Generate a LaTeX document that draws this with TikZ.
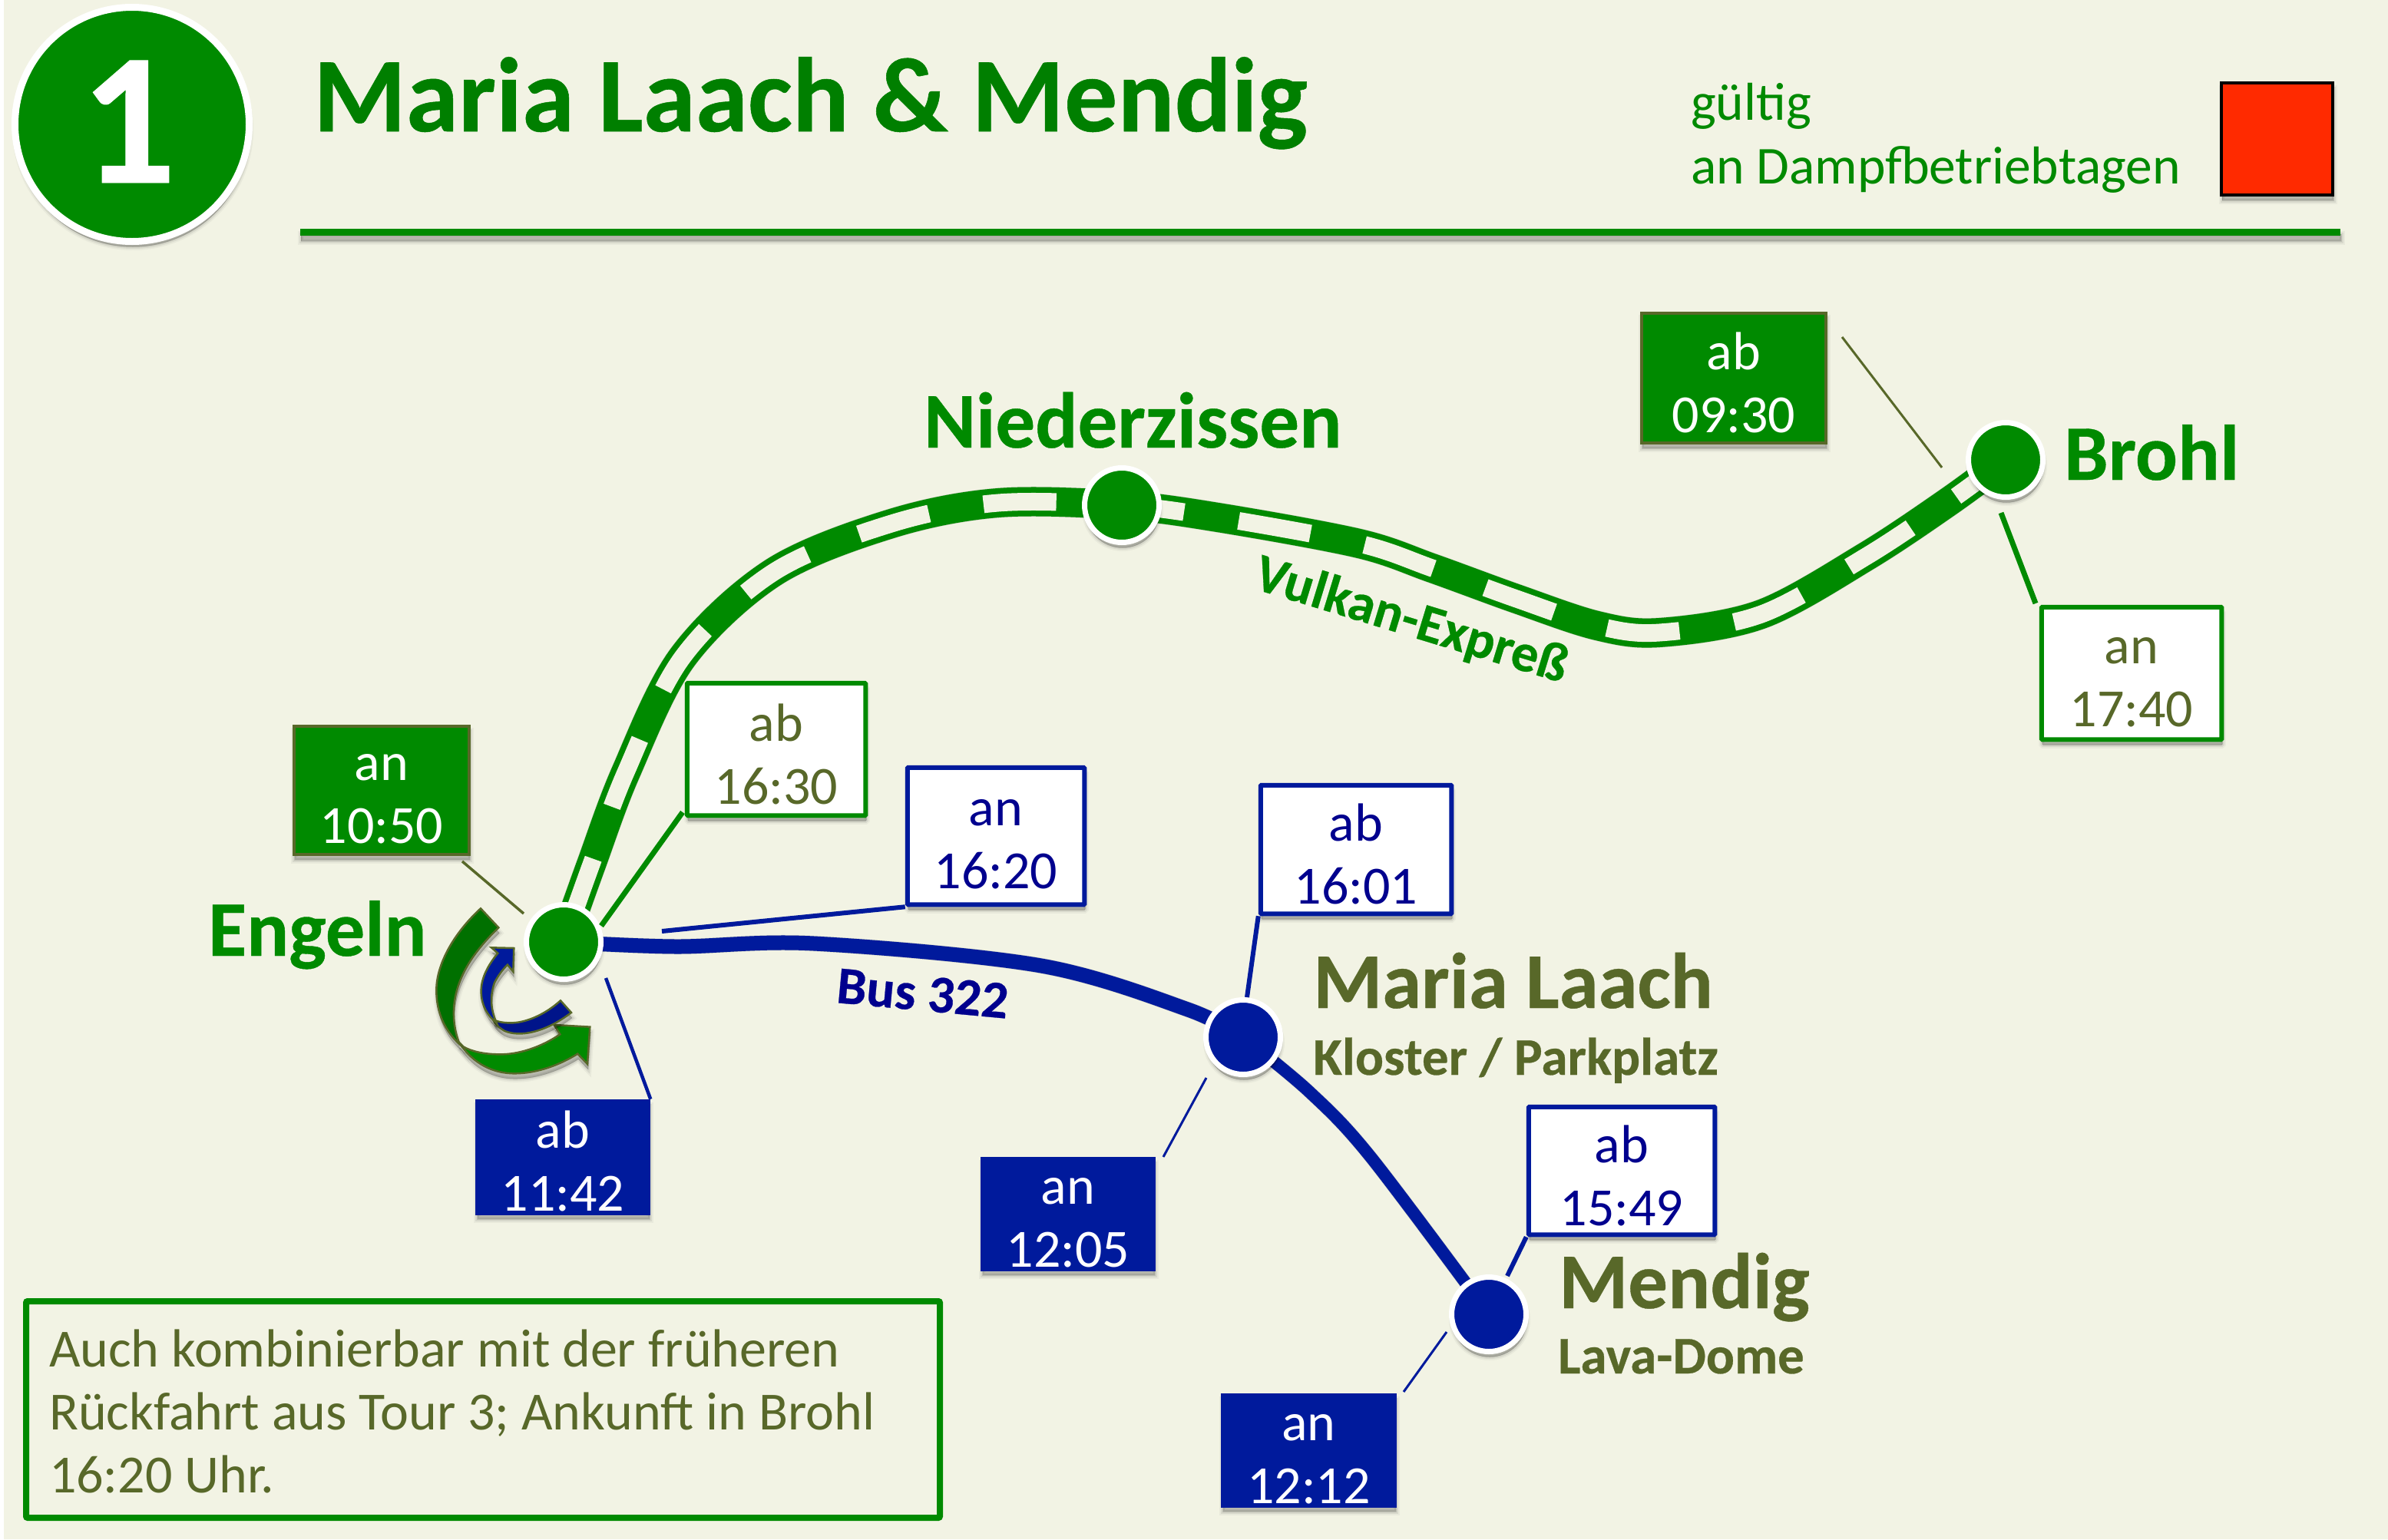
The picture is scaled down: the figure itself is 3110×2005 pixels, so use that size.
\documentclass[tikz,border=0pt]{standalone}
\usepackage{fontspec}
\setmainfont[BoldFeatures={FakeBold=0.4}]{Carlito}
\usetikzlibrary{shadows}
\definecolor{bgc}{HTML}{F2F3E4}
\definecolor{gr}{HTML}{008A00}
\definecolor{grd}{HTML}{007000}
\definecolor{titleg}{HTML}{007F00}
\definecolor{bl}{HTML}{001A9C}
\definecolor{bld}{HTML}{00148A}
\definecolor{navy}{HTML}{00008E}
\definecolor{olive}{HTML}{586829}
\definecolor{redbox}{HTML}{FF2A00}
\newcommand\fs[1]{\fontsize{#1}{82}\selectfont}
\tikzset{
  softsh/.style={
    general shadow={shadow xshift=1pt,shadow yshift=-7pt,fill=black,draw=black,line width=9pt,opacity=.04},
    general shadow={shadow xshift=1pt,shadow yshift=-7pt,fill=black,draw=black,line width=5pt,opacity=.07},
    general shadow={shadow xshift=1pt,shadow yshift=-7pt,fill=black,draw=black,line width=1pt,opacity=.12}},
  stat/.style={circle,draw=white,line width=7pt,minimum size=97pt,inner sep=0pt,softsh},
  gstat/.style={stat,fill=gr},
  bstat/.style={stat,fill=bl},
  txt/.style={inner sep=0pt,anchor=base west},
  gfill/.style={rectangle,fill=gr,draw=olive,line width=4pt,text=white,softsh},
  bfill/.style={rectangle,fill=bl,draw=bl,line width=4pt,text=white,softsh},
  gwhite/.style={rectangle,fill=white,draw=gr,line width=6pt,text=olive,rounded corners=1pt,softsh},
  bwhite/.style={rectangle,fill=white,draw=bl,line width=6pt,text=navy,rounded corners=1pt,softsh},
  tracksh/.style={line width=39pt,draw=black,opacity=.16},
  trackg/.style={line width=38pt,draw=gr},
  trackw/.style={line width=23pt,draw=bgc,dash pattern=on 95pt off 72pt,dash phase=147pt},
  buspath/.style={line width=19pt,draw=bl},
  lead/.style={draw=bl},
  arrowpiece/.style={draw=olive,line width=2.5pt,line join=miter,softsh}
}
\newcommand\tb[9]{%
  \pgfmathsetmacro\hh{2*(#9-(#3+#5)/2)-82}%
  \pgfmathsetmacro\ww{#4-#2-3.5}%
  \pgfmathsetmacro\vv{#5-#3-3.5}%
  \node[#6,inner sep=0pt,align=center,font=\fs{70},minimum width=\ww pt,minimum height=\vv pt]
    (#1) at ({(#2+#4)/2},{(#3+#5)/2}) {\rule{0pt}{\hh pt}#7\\#8};}
\begin{document}
\begin{tikzpicture}[x=1pt,y=-1pt]
\useasboundingbox (0,0) rectangle (3110,2005);
\fill[bgc] (0,0) rectangle (3110,2005);
\fill[white] (0,0) rectangle (5,2005);

% header
\node[circle,fill=gr,draw=white,line width=9pt,minimum size=305pt,inner sep=0pt,softsh] (badge) at (172,162) {};
\node[inner sep=0pt,anchor=base,text=white,font=\fs{245}\bfseries] (badgenum) at (167,238) {1};
\node[txt,text=titleg,font=\fs{138}\bfseries] (title) at (408,171) {Maria Laach \& Mendig};
\fill[gr,softsh] (391,298) rectangle (3048,307);
\node[txt,text=gr,font=\fs{69.5}] (valid1) at (2202,156) {gültig};
\node[txt,text=gr,font=\fs{69.5}] (valid2) at (2202,239) {an Dampfbetriebtagen};
\node[rectangle,fill=redbox,draw=black,line width=3.5pt,minimum width=145pt,minimum height=146pt,inner sep=0pt,softsh] (red) at (2965.5,181) {};

% route coordinates
\coordinate (eng) at (734,1227);
\coordinate (nied) at (1461,658);
\coordinate (broh) at (2612,599);
\coordinate (ml) at (1619,1351);
\coordinate (men) at (1939,1712);
\coordinate (t1) at (770,1126);
\coordinate (t2) at (815,1006);
\coordinate (t3) at (889,856);
\coordinate (t4) at (1008,745);
\coordinate (t5) at (1161,682);
\coordinate (t6) at (1300,655);
\coordinate (t7) at (1586,674);
\coordinate (t8) at (1770,708);
\coordinate (t8b) at (1865,740);
\coordinate (t9) at (1975,780);
\coordinate (t9b) at (2080,815);
\coordinate (t10) at (2161,824);
\coordinate (t11) at (2294,800);
\coordinate (t12) at (2430,725);
\coordinate (t13) at (2537,654);
\coordinate (b1) at (880,1233);
\coordinate (b2) at (1060,1229);
\coordinate (b4) at (1356,1258);
\coordinate (b4d) at (1547,1315);
\coordinate (b5) at (1705,1422);
\coordinate (b6) at (1785,1507);

\newcommand\trackp{plot[smooth,tension=.55] coordinates {(eng) (t1) (t2) (t3) (t4) (t5) (t6) (nied) (t7) (t8) (t8b) (t9) (t9b) (t10) (t11) (t12) (t13) (broh)}}
\draw[tracksh,yshift=-7pt,xshift=1pt] \trackp;
\draw[trackg] \trackp;
\draw[trackw,xshift=1pt,yshift=-2.5pt] \trackp;

\newcommand\busp{plot[smooth,tension=.55] coordinates {(eng) (b1) (b2) (b4) (b4d) (ml)}}
\newcommand\buspb{plot[smooth,tension=.55] coordinates {(ml) (b5) (b6) (men)}}
\draw[line width=20pt,draw=black,opacity=.16,yshift=-6pt,xshift=1pt] \busp;
\draw[line width=17pt,draw=black,opacity=.16,yshift=-6pt,xshift=1pt] \buspb;
\draw[buspath] \busp;
\draw[buspath,line width=16pt] \buspb;

% stations
\node[gstat] (Eng) at (eng) {};
\node[gstat] (Nied) at (nied) {};
\node[gstat] (Broh) at (broh) {};
\node[bstat] (ML) at (ml) {};
\node[bstat] (Men) at (men) {};

% time boxes
\tb{a1050}{381}{944}{613}{1115}{gfill}{an}{10:50}{1099}
\tb{a1630}{893}{888}{1129}{1064}{gwhite}{ab}{16:30}{1048}
\tb{a1620}{1180}{998}{1414}{1180}{bwhite}{an}{16:20}{1158}
\tb{a1601}{1640}{1021}{1892}{1192}{bwhite}{ab}{16:01}{1178}
\tb{a1142}{619}{1432}{847}{1583}{bfill}{ab}{11:42}{1578}
\tb{a1205}{1277}{1507}{1505}{1656}{bfill}{an}{12:05}{1651}
\tb{a1549}{1989}{1440}{2235}{1610}{bwhite}{ab}{15:49}{1597}
\tb{a1212}{1590}{1815}{1819}{1964}{bfill}{an}{12:12}{1959}
\tb{a0930}{2136}{406}{2380}{579}{gfill}{ab}{09:30}{564}
\tb{a1740}{2657}{789}{2895}{965}{gwhite}{an}{17:40}{947}

% leader lines
\coordinate (l1a) at (602,1122); \coordinate (l1b) at (682,1190);
\coordinate (l2b) at (783,1206); \coordinate (l2a) at (889,1058);
\coordinate (l3b) at (862,1213);
\coordinate (l4a) at (789,1274);
\coordinate (l5a) at (1571,1404); \coordinate (l5b) at (1515,1507);
\coordinate (l6b) at (1624,1299);
\coordinate (l7b) at (1963,1662);
\coordinate (l8a) at (1884,1735); \coordinate (l8b) at (1828,1813);
\coordinate (l9a) at (2399,439); \coordinate (l9b) at (2529,609);
\coordinate (l10a) at (2606,668); \coordinate (l10b) at (2651,786);
\draw[draw=olive,line width=3.5pt] (l1a) -- (l1b);
\draw[draw=gr,line width=7pt] (l2a) -- (l2b);
\draw[lead,line width=6pt] (a1620.south west) -- (l3b);
\draw[lead,line width=4.5pt] (l4a) -- (a1142.north east);
\draw[lead,line width=3pt] (l5a) -- (l5b);
\draw[lead,line width=6pt] (a1601.south west) -- (l6b);
\draw[lead,line width=6pt] (a1549.south west) -- (l7b);
\draw[lead,line width=3pt] (l8a) -- (l8b);
\draw[draw=olive,line width=3pt] (l9a) -- (l9b);
\draw[draw=gr,line width=7pt] (l10a) -- (l10b);

% turnaround arrows at Engeln
\begin{scope}[shift={(500,1100)},x=.3333pt,y=-.3333pt]
\path[arrowpiece,fill=gr] (295,775) .. controls (350,860) and (430,895) .. (510,895)
  .. controls (600,895) and (690,860) .. (757,818) -- (795,858) -- (805,713) -- (665,705) -- (688,742)
  .. controls (610,795) and (520,822) .. (450,820) .. controls (390,820) and (340,808) .. (310,790) -- cycle;
\path[arrowpiece,fill=grd] (378,250) .. controls (270,350) and (205,470) .. (205,570)
  .. controls (205,660) and (240,730) .. (297,782) .. controls (270,720) and (265,640) .. (285,570)
  .. controls (310,480) and (370,400) .. (448,325) -- cycle;
\path[arrowpiece,fill=bld] (732,657) -- (690,610) .. controls (630,665) and (550,700) .. (490,697)
  .. controls (465,697) and (445,693) .. (428,685) .. controls (430,700) and (450,715) .. (470,728)
  .. controls (530,755) and (630,735) .. (732,657) -- cycle;
\path[arrowpiece,fill=bl] (508,405) -- (420,403) -- (445,425) .. controls (400,480) and (378,530) .. (380,580)
  .. controls (382,630) and (405,670) .. (440,697) .. controls (415,640) and (415,590) .. (432,540)
  .. controls (445,515) and (462,490) .. (483,470) -- (505,497) -- cycle;
\end{scope}

% place names
\node[txt,text=gr,font=\fs{103}\bfseries] (lNied) at (1203,583) {Niederzissen};
\node[txt,text=gr,font=\fs{102.5}\bfseries] (lBroh) at (2688,625) {Brohl};
\node[txt,text=gr,font=\fs{102.5}\bfseries] (lEng) at (271,1245) {Engeln};
\node[txt,text=olive,font=\fs{103}\bfseries] (lML) at (1710,1313) {Maria Laach};
\node[txt,text=olive,font=\fs{69}\bfseries] (lKl) at (1710,1400) {Kloster / Parkplatz};
\node[txt,text=olive,font=\fs{103}\bfseries] (lMen) at (2030,1704) {Mendig};
\node[txt,text=olive,font=\fs{69}\bfseries] (lLava) at (2029,1789) {Lava-Dome};
\node[txt,text=gr,font=\fs{70}\bfseries,rotate=-17] (lVulkan) at (1630,766) {Vulkan-Expreß};
\node[txt,text=navy,font=\fs{69}\bfseries,rotate=-5.3] (lBus) at (1088,1306) {Bus 322};

% note
\node[rectangle,draw=gr,line width=8pt,rounded corners=2pt,inner sep=0pt,minimum width=1190pt,minimum height=282pt,
  text width=1130pt,align=flush left,text=olive,font=\fs{70}] (note) at (629,1836)
  {\rule{0pt}{54pt}Auch kombinierbar mit der früheren\\Rückfahrt aus Tour 3; Ankunft in Brohl\\16:20 Uhr.};
\end{tikzpicture}
\end{document}
